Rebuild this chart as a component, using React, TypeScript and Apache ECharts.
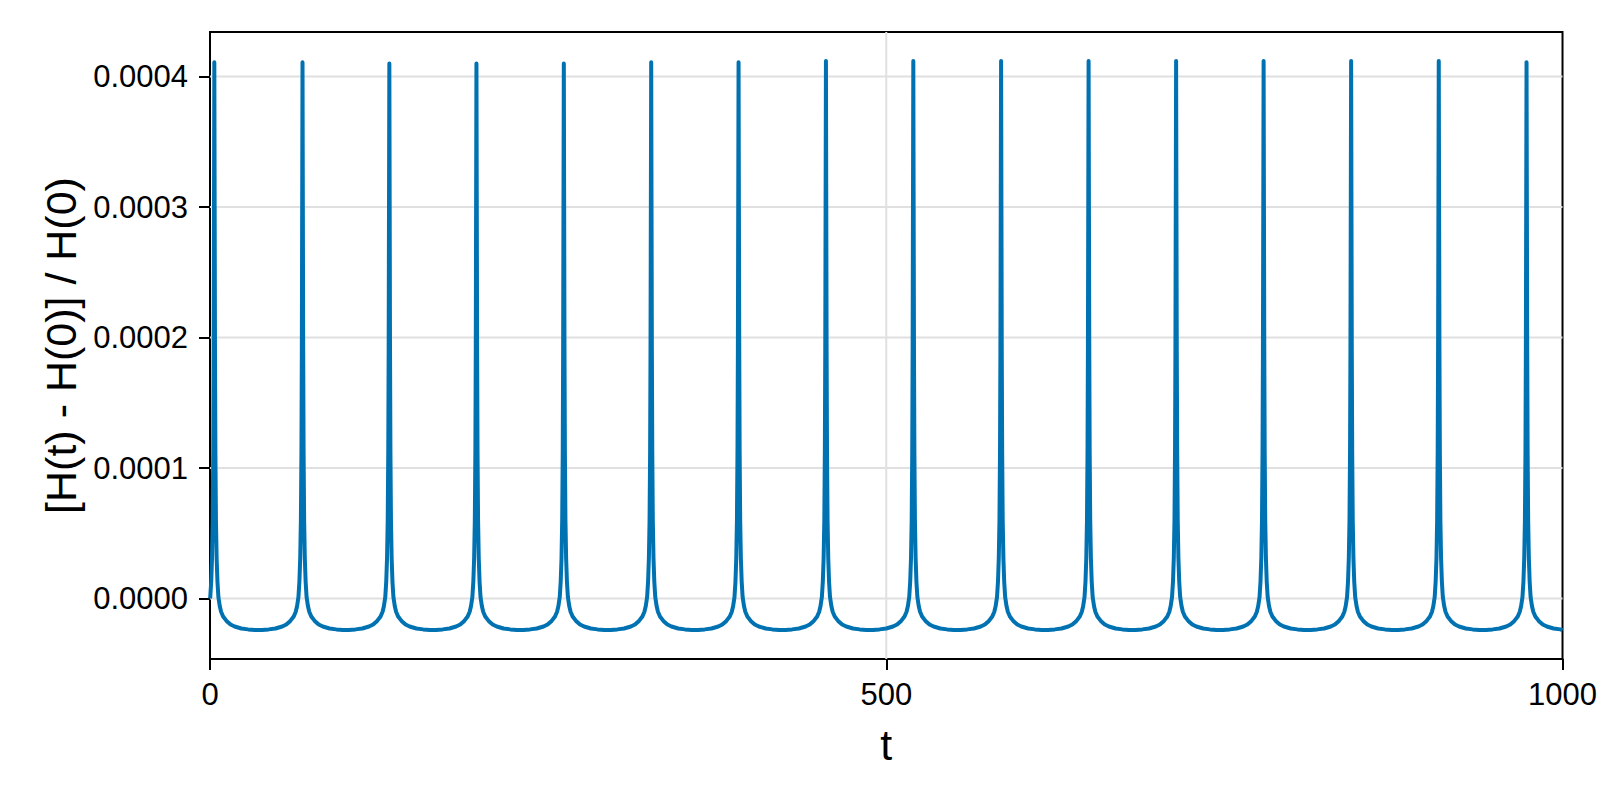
import { useEffect, useRef } from 'react';
import * as echarts from 'echarts';

// times of the spikes and their tops
const peakTimes = [3.2, 68.4, 132.6, 197.0, 261.6, 326.2, 390.8, 455.4, 520.0, 584.9, 649.6, 714.3, 779.0, 843.7, 908.5, 973.4];
const peakValues = [
    0.000411, 0.000411, 0.000410, 0.000410, 0.000410, 0.000411, 0.000411, 0.000412,
    0.000412, 0.000412, 0.000412, 0.000412, 0.000412, 0.000412, 0.000412, 0.000411
];

// shape of one spike: offset from its peak (in t) and the value there (null = the peak itself)
const spikeOffsets = [
    -30, -25, -20, -15, -12, -9, -6.5, -5, -4, -3, -2.3, -1.7, -1.2, -0.8, -0.5, -0.25,
    0,
    0.25, 0.5, 0.8, 1.2, 1.7, 2.3, 3, 4, 5, 6.5, 9, 12, 15, 20, 25, 30
];
const spikeValues: (number | null)[] = [
    -0.0000242, -0.0000237, -0.000023, -0.0000215, -0.00002, -0.0000172, -0.0000138, -0.0000102,
    -0.0000058, 0.0000012, 0.000013, 0.000031, 0.00006, 0.000112, 0.00019, 0.0003,
    null,
    0.0003, 0.00019, 0.000112, 0.00006, 0.000031, 0.000013, 0.0000012, -0.0000058,
    -0.0000102, -0.0000138, -0.0000172, -0.00002, -0.0000215, -0.000023, -0.0000237, -0.0000242
];

const startPoint: [number, number] = [0, 0];
const endPoint: [number, number] = [1000, -0.0000243];

const xRange = [0, 1000];
const yRange = [-0.0000464, 0.0004342];
const yTicks = [0, 0.0001, 0.0002, 0.0003, 0.0004];
const xGridLines = [500];

const LINE_COLOR = '#0072B2';
const GRID_COLOR = '#e0e0e0';
const FONT = '"Liberation Sans", Arial, sans-serif';

function buildPoints(): [number, number][] {
    const pts: [number, number][] = [startPoint];
    peakTimes.forEach((tp, i) => {
        spikeOffsets.forEach((dt, j) => {
            const t = tp + dt;
            if (t <= startPoint[0] || t >= endPoint[0]) return;
            const v = spikeValues[j];
            pts.push([t, v === null ? peakValues[i] : v]);
        });
    });
    pts.push(endPoint);
    return pts;
}

// light grid lines drawn as plain line series so they sit under the curve
function gridSeries() {
    const base = {
        type: 'line',
        silent: true,
        symbol: 'none',
        z: 1,
        lineStyle: { color: GRID_COLOR, width: 2 },
        emphasis: { disabled: true }
    };
    return [
        ...yTicks.map(v => ({ ...base, data: [[xRange[0], v], [xRange[1], v]] })),
        ...xGridLines.map(v => ({ ...base, data: [[v, yRange[0]], [v, yRange[1]]] }))
    ];
}

const App = () => {
    const chartRef = useRef<HTMLDivElement>(null);

    useEffect(() => {
        if (!chartRef.current) return;
        const chart = echarts.init(chartRef.current, undefined, { renderer: 'svg' });

        chart.setOption({
            animation: false,
            backgroundColor: '#ffffff',
            textStyle: { fontFamily: FONT },
            grid: {
                left: 210,
                right: 32,
                top: 32,
                bottom: 141,
                show: true,
                borderColor: '#000',
                borderWidth: 2
            },
            xAxis: {
                type: 'value',
                min: xRange[0],
                max: xRange[1],
                interval: 500,
                name: 't',
                nameLocation: 'middle',
                nameGap: 64,
                nameTextStyle: { fontSize: 43, color: '#000', fontFamily: FONT },
                axisLine: { show: true, onZero: false, lineStyle: { color: '#000', width: 2 } },
                axisTick: { show: true, inside: false, length: 11, lineStyle: { color: '#000', width: 2 } },
                axisLabel: {
                    fontSize: 31,
                    color: '#000',
                    margin: 20,
                    fontFamily: FONT,
                    formatter: (v: number) => String(v)
                },
                splitLine: { show: false }
            },
            yAxis: {
                type: 'value',
                min: yRange[0],
                max: yRange[1],
                name: '[H(t) - H(0)] / H(0)',
                nameLocation: 'middle',
                nameGap: 126,
                nameRotate: 90,
                nameTextStyle: { fontSize: 43, color: '#000', fontFamily: FONT },
                axisLine: { show: true, onZero: false, lineStyle: { color: '#000', width: 2 } },
                axisTick: {
                    show: true,
                    inside: false,
                    length: 11,
                    customValues: yTicks,
                    lineStyle: { color: '#000', width: 2 }
                },
                axisLabel: {
                    fontSize: 31,
                    color: '#000',
                    margin: 22,
                    fontFamily: FONT,
                    customValues: yTicks,
                    formatter: (v: number) => v.toFixed(4)
                },
                splitLine: { show: false }
            },
            series: [
                ...gridSeries(),
                {
                    type: 'line',
                    z: 3,
                    data: buildPoints(),
                    showSymbol: false,
                    symbol: 'none',
                    smooth: false,
                    lineStyle: { color: LINE_COLOR, width: 4, join: 'round' },
                    itemStyle: { color: LINE_COLOR }
                }
            ]
        });

        const onResize = () => chart.resize();
        window.addEventListener('resize', onResize);
        return () => {
            window.removeEventListener('resize', onResize);
            chart.dispose();
        };
    }, []);

    return (
        <div
            ref={chartRef}
            style={{ position: 'fixed', left: 0, top: 0, width: 1600, height: 800, background: '#fff' }}
        />
    );
};

export default App;
